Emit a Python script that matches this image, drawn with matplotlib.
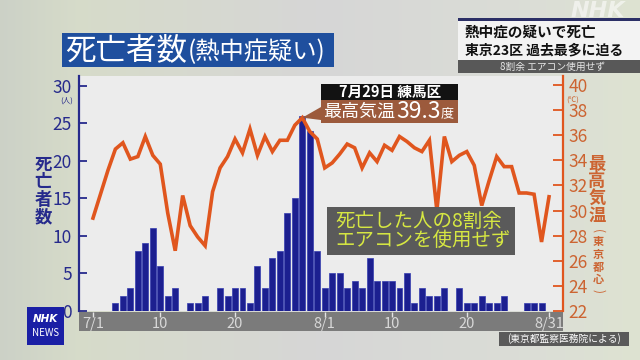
import numpy as np
import matplotlib.pyplot as plt
from matplotlib.patches import Rectangle, Polygon

plt.rcParams['font.family'] = ['Noto Sans CJK JP', 'DejaVu Sans']

# 7/1 .. 8/31
deaths = [0, 0, 0, 1, 2, 3, 8, 9, 11, 6,
          2, 3, 0, 1, 1, 2, 0, 3, 2, 3,
          3, 1, 6, 3, 7, 8, 13, 15, 26, 24, 8,
          3, 5, 5, 3, 4, 3, 7, 4, 4, 4,
          3, 5, 1, 3, 2, 2, 3, 0, 3, 1,
          1, 2, 1, 1, 2, 0, 0, 1, 1, 1, 0]
temps = [29.4, 31.3, 33.2, 34.9, 35.4, 34.1, 34.3, 35.9, 34.4, 33.7,
         29.8, 26.8, 31.2, 28.8, 27.9, 27.2, 31.5, 33.4, 34.3, 35.7,
         34.6, 36.5, 34.4, 35.9, 34.7, 35.6, 35.6, 36.8, 37.4, 36.3, 35.7,
         33.4, 33.8, 34.5, 35.3, 35.0, 33.4, 34.6, 33.9, 35.2, 34.8,
         35.9, 35.5, 35.0, 34.7, 35.6, 30.0, 35.9, 33.9, 34.4, 34.7,
         33.6, 30.4, 32.4, 34.3, 33.5, 33.5, 31.4, 31.4, 31.3, 27.5, 31.1]
tick_days = [0, 9, 19, 31, 40, 50, 61]
tick_labels = ['7/1', '10', '20', '8/1', '10', '20', '8/31']
peak_day = 28

days = np.arange(len(deaths))

NAVY = '#262a8c'
ORANGE = '#e0561e'
TEMP_TXT = '#cc6431'
BROWN = '#9c5a3c'

W, H = 640, 360
fig = plt.figure(figsize=(6.4, 3.6), dpi=100)


def px(x0, y0, w, h):
    return [x0 / W, 1 - (y0 + h) / H, w / W, h / H]


# background gradient
bg = fig.add_axes([0, 0, 1, 1])
u = np.linspace(0, 1, W)
stops = [0, 0.12, 0.5, 0.85, 1]
r = np.interp(u, stops, [0.80, 0.84, 0.84, 0.86, 0.87])
g = np.interp(u, stops, [0.82, 0.86, 0.84, 0.87, 0.89])
b = np.interp(u, stops, [0.78, 0.79, 0.84, 0.84, 0.82])
grad = np.stack([r, g, b], axis=-1)[None, :, :].repeat(H, axis=0)
bg.imshow(grad, extent=[0, W, H, 0], aspect='auto')
bg.set_xlim(0, W)
bg.set_ylim(H, 0)
bg.axis('off')

# main chart
ax = fig.add_axes(px(79, 76, 484, 235))
ax.set_facecolor('#ececec')
ax.bar(days, deaths, width=0.8, color='#1c1f90', edgecolor='#343cb0', linewidth=0.5)
ax.set_xlim(-1.87, 62.87)
ax.set_ylim(0, 31.3)
ax.set_xticks([])
ax.set_yticks(range(0, 31, 5))
ax.tick_params(axis='y', direction='in', length=6, width=1.3, color=NAVY,
               labelcolor=NAVY, labelsize=12.5, pad=5)
for s in ['top', 'right', 'bottom']:
    ax.spines[s].set_visible(False)
ax.spines['left'].set_color(NAVY)
ax.spines['left'].set_linewidth(1.6)

ax2 = ax.twinx()
ax2.plot(days, temps, color=ORANGE, lw=2.6, solid_joinstyle='miter')
ax2.set_ylim(22, 40.72)
ax2.set_yticks(range(22, 41, 2))
ax2.tick_params(axis='y', direction='in', length=7, width=1.3, color=ORANGE,
                labelcolor=TEMP_TXT, labelsize=12.5, pad=4)
for s in ['top', 'left', 'bottom']:
    ax2.spines[s].set_visible(False)
ax2.spines['right'].set_color(ORANGE)
ax2.spines['right'].set_linewidth(1.6)

# date band
band = fig.add_axes(px(79, 312, 484, 19))
band.set_facecolor('#7b7b7b')
band.set_xlim(ax.get_xlim())
band.set_ylim(0, 1)
band.set_xticks([])
band.set_yticks([])
for s in band.spines.values():
    s.set_visible(False)
band.vlines(tick_days, 0.72, 1.0, color='#e4e4e4', lw=1)
for d, lab in zip(tick_days, tick_labels):
    band.text(d, 0.36, lab, ha='center', va='center', color='#d8d8d8', fontsize=10.5)

# overlay in pixel coordinates
ov = fig.add_axes([0, 0, 1, 1], facecolor='none')
ov.set_xlim(0, W)
ov.set_ylim(H, 0)
ov.axis('off')
renderer = fig.canvas.get_renderer()


def right_edge(t):
    bb = t.get_window_extent(renderer)
    return ov.transData.inverted().transform((bb.x1, bb.y0))[0]


# title
ov.add_patch(Rectangle((62, 33), 272, 34, fc='#1f4f9e'))
t = ov.text(65, 51, '死亡者数', color='white', fontsize=22, ha='left', va='center')
ov.text(right_edge(t) + 1, 52, '(熱中症疑い)', color='white', fontsize=17.5,
        ha='left', va='center')

# top right headline
ov.add_patch(Rectangle((458, 18), 182, 2.5, fc='#2b2f66'))
ov.add_patch(Rectangle((458, 20.5), 182, 39.5, fc='#f3f3f3'))
ov.text(465, 32, '熱中症の疑いで死亡', color='#111111', fontsize=10.5,
        fontweight='bold', ha='left', va='center')
ov.text(465, 50, '東京23区 過去最多に迫る', color='#111111', fontsize=10,
        fontweight='bold', ha='left', va='center')
ov.add_patch(Rectangle((458, 60), 182, 13, fc='#585858'))
ov.text(553, 66.5, '8割余 エアコン使用せず', color='#e8e8e8', fontsize=7,
        ha='center', va='center')
ov.text(598, 11, 'NHK', color='white', alpha=0.55, fontsize=16, fontweight='bold',
        fontstyle='italic', ha='center', va='center', family='DejaVu Sans')

# axis titles
for i, ch in enumerate('死亡者数'):
    ov.text(43, 165 + i * 17.3, ch, color=NAVY, fontsize=12.5, fontweight='bold',
            ha='center', va='center')
for i, ch in enumerate('最高気温'):
    ov.text(597, 164 + i * 17.3, ch, color=TEMP_TXT, fontsize=12.5, fontweight='bold',
            ha='center', va='center')
ov.text(598, 231, '(', color=TEMP_TXT, fontsize=8.5, rotation=-90, ha='center', va='center')
for i, ch in enumerate('東京都心'):
    ov.text(598, 242 + i * 12.5, ch, color=TEMP_TXT, fontsize=8, fontweight='bold',
            ha='center', va='center')
ov.text(598, 291, ')', color=TEMP_TXT, fontsize=8.5, rotation=-90, ha='center', va='center')
ov.text(67, 100.5, '(人)', color=NAVY, fontsize=5.5, ha='center', va='center')
ov.text(573, 100.5, '(℃)', color=TEMP_TXT, fontsize=5.5, ha='center', va='center')

# peak annotation
tip = ov.transData.inverted().transform(ax2.transData.transform((peak_day, temps[peak_day])))
ov.add_patch(Polygon([(321, 107), (321, 120), tuple(tip)], closed=True, fc=BROWN))
ov.add_patch(Rectangle((321, 84), 137, 16, fc='#121212'))
ov.text(390, 92, '7月29日 練馬区', color='white', fontsize=10.5, fontweight='bold',
        ha='center', va='center')
ov.add_patch(Rectangle((321, 100), 137, 23, fc=BROWN))
t = ov.text(323, 112, '最高気温', color='white', fontsize=13, ha='left', va='center')
t = ov.text(right_edge(t) + 1, 111.5, '39.3', color='white', fontsize=16.5,
            ha='left', va='center')
ov.text(right_edge(t) + 0.5, 114, '度', color='white', fontsize=9.5, ha='left', va='center')

# air-conditioner note
ov.add_patch(Rectangle((327, 207), 188, 48, fc='#5a5a5a'))
ov.text(335, 221, '死亡した人の8割余', color='#d6e742', fontsize=14,
        ha='left', va='center')
ov.text(335, 241, 'エアコンを使用せず', color='#d6e742', fontsize=14,
        ha='left', va='center')

# logo and source
ov.add_patch(Rectangle((27, 307), 37, 38, fc='#1a1fa5'))
ov.text(45.5, 319, 'NHK', color='white', fontsize=7.5, fontweight='bold',
        fontstyle='italic', ha='center', va='center', family='DejaVu Sans')
ov.text(45.5, 333, 'NEWS', color='white', fontsize=7, ha='center', va='center')
ov.add_patch(Rectangle((499, 332), 130, 14, fc='#5a5a5a'))
ov.text(564, 339, '(東京都監察医務院による)', color='white', fontsize=7,
        ha='center', va='center')

fig.savefig('out.png', dpi=100)
